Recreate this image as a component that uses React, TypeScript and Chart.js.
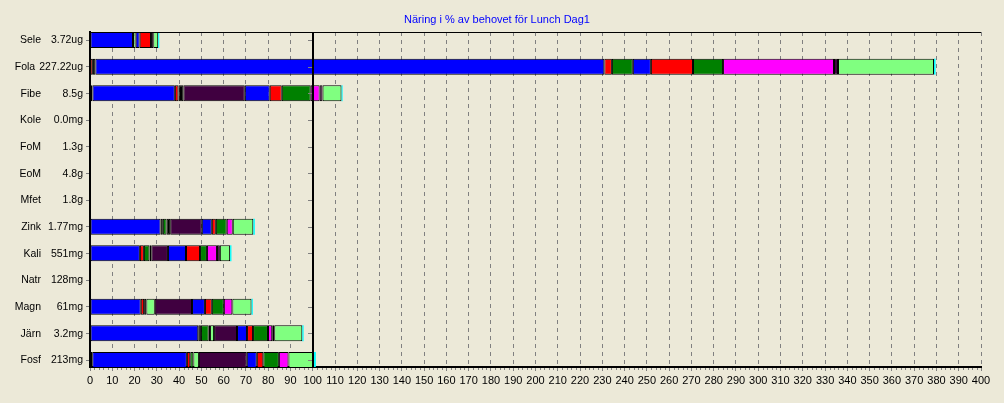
import { useEffect, useRef } from "react";
import { Chart, registerables } from "chart.js";

Chart.register(...registerables);

const TITLE = "Näring i % av behovet för Lunch Dag1";

const categories = ["Sele", "Fola", "Fibe", "Kole", "FoM", "EoM", "Mfet", "Zink", "Kali", "Natr", "Magn", "Järn", "Fosf"];
const amounts = ["3.72ug", "227.22ug", "8.5g", "0.0mg", "1.3g", "4.8g", "1.8g", "1.77mg", "551mg", "128mg", "61mg", "3.2mg", "213mg"];

// one array per food (stack segment), values in % per category row
const sA = [0, 1.3, 0, 0, 0, 0, 0, 0, 0, 0, 0, 0, 0];
const sB = [0, 1.1, 1.1, 0, 0, 0, 0, 0, 0, 0, 0, 0, 1.0];
const sC = [19.3, 228.5, 37.0, 0, 0, 0, 0, 31.7, 22.4, 0, 22.8, 48.6, 42.5];
const sD = [0, 3.4, 1.6, 0, 0, 0, 0, 0, 1.8, 0, 1.5, 0, 1.5];
const sE = [0, 0, 0, 0, 0, 0, 0, 1.0, 0, 0, 1.0, 1.2, 0];
const sF = [0, 9.4, 0, 0, 0, 0, 0, 1.7, 2.5, 0, 0, 3.5, 1.4];
const sG = [0, 0, 0, 0, 0, 0, 0, 0, 0, 0, 0, 0.6, 0];
const sH = [1.2, 0, 0, 0, 0, 0, 0, 0, 0, 0, 3.8, 1.8, 2.5];
const sI = [0, 0, 2.2, 0, 0, 0, 0, 1.6, 0.8, 0, 0, 0, 0];
const sJ = [0, 0, 27.6, 0, 0, 0, 0, 14.2, 7.5, 0, 16.7, 10.3, 21.5];
const sK = [1.8, 8.1, 11.2, 0, 0, 0, 0, 4.5, 8.1, 0, 5.8, 4.5, 4.5];
const sL = [5.1, 18.9, 5.4, 0, 0, 0, 0, 1.8, 6.3, 0, 3.1, 2.7, 2.9];
const sM = [0, 13.5, 13.0, 0, 0, 0, 0, 4.9, 3.1, 0, 5.4, 6.7, 7.0];
const sN = [0, 49.8, 4.0, 0, 0, 0, 0, 2.7, 4.5, 0, 3.8, 1.9, 4.3];
const sO = [1.0, 1.8, 1.3, 0, 0, 0, 0, 0, 1.3, 0, 0, 0.9, 0];
const sP = [2.2, 43.1, 8.5, 0, 0, 0, 0, 9.2, 4.6, 0, 8.6, 12.6, 11.4];
const sQ = [0.5, 0.7, 0.5, 0, 0, 0, 0, 0.7, 0.6, 0, 0.6, 0.6, 0.9];

const seriesValues = [sA, sB, sC, sD, sE, sF, sG, sH, sI, sJ, sK, sL, sM, sN, sO, sP, sQ];
const seriesColors = [
  "#FF0000", "#000000", "#0000FF", "#FF0000", "#000000", "#008000", "#000000", "#80FF80",
  "#000000", "#400040", "#0000FF", "#FF0000", "#008000", "#FF00FF", "#400040", "#80FF80", "#00FFFF",
];

const X_MAX = 400;
const X_STEP = 10;
const X_MINOR = 2;
const REF_LINE = 100;

const BG = "#ECE9D8";
const FONT = "'Liberation Sans', Arial, sans-serif";

const decor = {
  id: "decor",
  beforeDraw(chart: any) {
    const { ctx, width, height } = chart;
    ctx.save();
    ctx.fillStyle = BG;
    ctx.fillRect(0, 0, width, height);
    ctx.restore();
  },
  afterDatasetsDraw(chart: any) {
    const { ctx, chartArea } = chart;
    const xs = chart.scales.x;
    const ys = chart.scales.y;
    ctx.save();
    ctx.strokeStyle = "#000";
    ctx.lineWidth = 1;
    ctx.beginPath();
    ctx.moveTo(chartArea.left, Math.round(chartArea.top) + 0.5);
    ctx.lineTo(chartArea.right, Math.round(chartArea.top) + 0.5);
    ctx.stroke();
    const x100 = Math.round(xs.getPixelForValue(REF_LINE));
    ctx.lineWidth = 2;
    ctx.beginPath();
    ctx.moveTo(x100, chartArea.top);
    ctx.lineTo(x100, chartArea.bottom);
    ctx.stroke();
    ctx.strokeStyle = "#808080";
    ctx.lineWidth = 1;
    categories.forEach((_, i) => {
      const y = Math.round(ys.getPixelForValue(i)) + 0.5;
      ctx.beginPath();
      ctx.moveTo(x100 - 5, y);
      ctx.lineTo(x100 - 1, y);
      ctx.stroke();
    });
    ctx.restore();
  },
  afterDraw(chart: any) {
    const { ctx, chartArea } = chart;
    const xs = chart.scales.x;
    const ys = chart.scales.y;
    ctx.save();
    ctx.strokeStyle = "#808080";
    ctx.lineWidth = 1;
    for (let v = 0; v <= X_MAX; v += X_MINOR) {
      if (v % X_STEP === 0) continue;
      const x = Math.round(xs.getPixelForValue(v)) + 0.5;
      ctx.beginPath();
      ctx.moveTo(x, chartArea.bottom + 1);
      ctx.lineTo(x, chartArea.bottom + 3);
      ctx.stroke();
    }
    ctx.fillStyle = "#0000FF";
    ctx.font = `11px ${FONT}`;
    ctx.textAlign = "center";
    ctx.textBaseline = "middle";
    ctx.fillText(TITLE, 497, 20);
    ctx.fillStyle = "#000";
    ctx.font = `10.5px ${FONT}`;
    categories.forEach((name, i) => {
      const y = ys.getPixelForValue(i) + 0.5;
      const valueRight = 83;
      const vw = ctx.measureText(amounts[i]).width;
      const nameRight = Math.min(41, valueRight - vw - 4);
      ctx.textAlign = "right";
      ctx.fillText(name, nameRight, y);
      ctx.fillText(amounts[i], valueRight, y);
    });
    ctx.restore();
  },
};

export default function App() {
  const ref = useRef<HTMLCanvasElement | null>(null);

  useEffect(() => {
    document.body.style.margin = "0";
    document.body.style.background = BG;
    const canvas = ref.current;
    if (!canvas) return;

    const datasets = seriesValues.map((vals, si) => ({
      label: `S${si + 1}`,
      data: vals
        .map((v, i) => (v > 0 ? { x: v, y: i } : null))
        .filter((p) => p !== null) as { x: number; y: number }[],
      backgroundColor: seriesColors[si],
      borderColor: "#000000",
      borderWidth: si === seriesValues.length - 1 ? 0 : 1,
      borderSkipped: false,
      inflateAmount: 0,
      barThickness: 16,
    }));

    const chart = new Chart(canvas, {
      type: "bar",
      data: { datasets },
      plugins: [decor],
      options: {
        indexAxis: "y",
        animation: false,
        responsive: false,
        maintainAspectRatio: false,
        devicePixelRatio: 1,
        layout: { padding: { top: 32, right: 23, bottom: 0, left: 0 } },
        plugins: {
          legend: { display: false },
          tooltip: { enabled: false },
          title: { display: false },
        },
        scales: {
          x: {
            type: "linear",
            stacked: true,
            min: 0,
            max: X_MAX,
            bounds: "data",
            offset: false,
            afterFit: (s: any) => {
              s.height = 36;
            },
            ticks: {
              stepSize: X_STEP,
              autoSkip: false,
              maxRotation: 0,
              color: "#000",
              padding: 3,
              font: { family: FONT, size: 11 },
            },
            grid: {
              offset: false,
              color: (c: any) => (c.tick && c.tick.value === 0 ? "rgba(0,0,0,0)" : "#808080"),
              lineWidth: 1,
              tickLength: 4,
              tickColor: "#808080",
            },
            border: { display: true, color: "#000", width: 2, dash: [4, 4] },
          },
          y: {
            type: "linear",
            stacked: true,
            reverse: true,
            offset: false,
            min: -0.3,
            max: 12.2625,
            bounds: "data",
            afterBuildTicks: (s: any) => {
              s.ticks = categories.map((_, i) => ({ value: i }));
            },
            afterFit: (s: any) => {
              s.width = 90;
            },
            ticks: { display: false, includeBounds: true },
            grid: {
              offset: false,
              drawOnChartArea: false,
              drawTicks: true,
              tickLength: 4,
              tickColor: "#808080",
            },
            border: { display: true, color: "#000", width: 2 },
          },
        },
      },
    });

    return () => chart.destroy();
  }, []);

  return (
    <div style={{ width: 1004, height: 403, background: BG }}>
      <canvas ref={ref} width={1004} height={403} style={{ display: "block" }} />
    </div>
  );
}
